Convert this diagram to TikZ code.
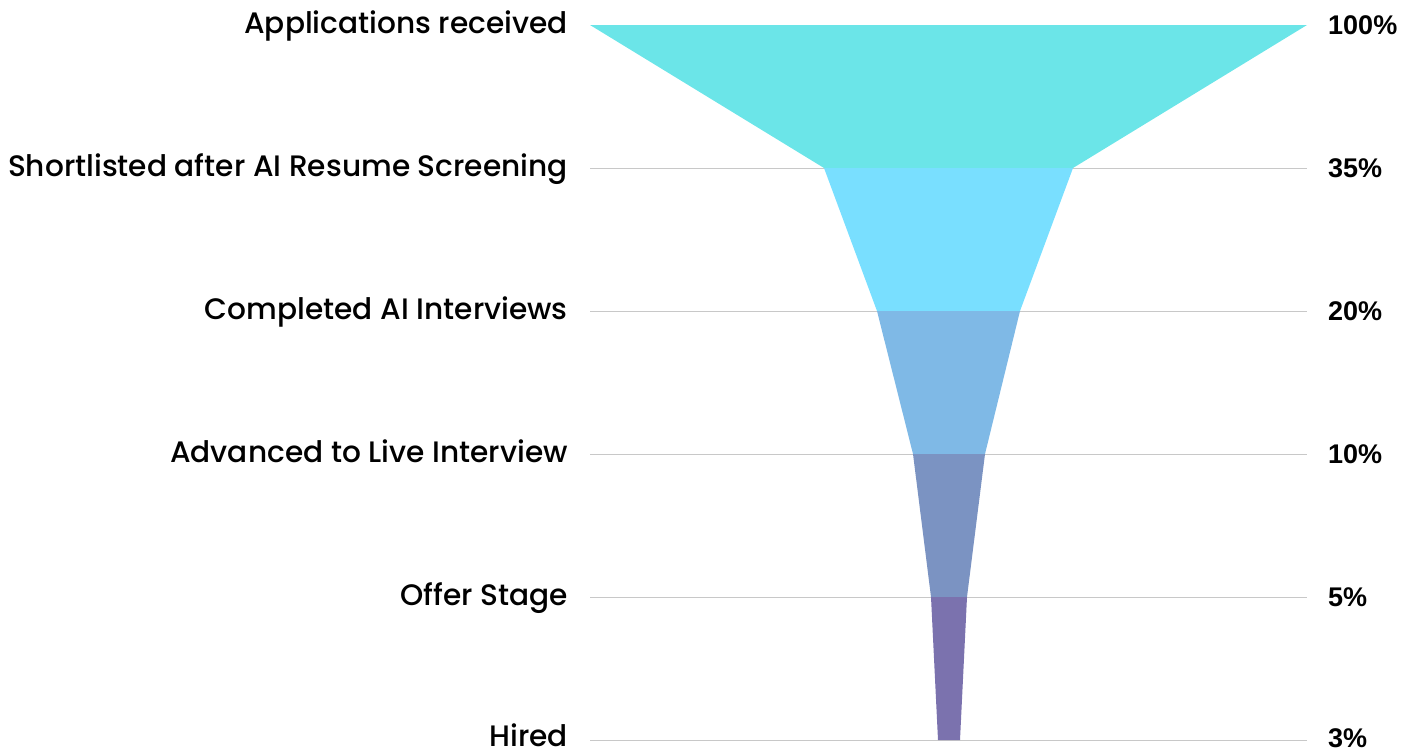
\documentclass[tikz,border=0pt]{standalone}
\usepackage{fontspec}
\setmainfont{Poppins}[UprightFont={* Medium}]
\newfontfamily\pctfont{Liberation Sans}
\usetikzlibrary{positioning}
\definecolor{stageA}{HTML}{6BE5E8}
\definecolor{stageB}{HTML}{79DFFF}
\definecolor{stageC}{HTML}{7FB9E6}
\definecolor{stageD}{HTML}{7B93C2}
\definecolor{stageE}{HTML}{7B72AE}
\definecolor{gridgray}{HTML}{C8C8C8}
\tikzstyle{stage} = [anchor=base east, inner sep=0pt, font=\fontsize{29.6}{34}\selectfont]
\tikzstyle{pct} = [anchor=base west, inner sep=0pt, font=\pctfont\bfseries\fontsize{27}{32}\selectfont]
\tikzstyle{grid} = [draw=gridgray, line width=1pt]

\begin{document}
\begin{tikzpicture}[x=1pt,y=-1pt]
	\useasboundingbox (0,0) rectangle (1411,755);
	% funnel corners, one pair per level
	\foreach \n/\y/\l/\r in {0/25/590/1307, 1/168/824/1073, 2/311/877/1020,
		3/454/913/985, 4/597/931/967, 5/740/938/960} {
		\coordinate (l\n) at (\l,\y);
		\coordinate (r\n) at (\r,\y);
		\coordinate (gl\n) at (590,\y);
		\coordinate (gr\n) at (1307,\y);
	}
	\foreach \n in {1,...,5}
		\draw[grid] (gl\n) -- (gr\n);
	\fill[stageA] (l0) -- (r0) -- (r1) -- (l1) -- cycle;
	\fill[stageB] (l1) -- (r1) -- (r2) -- (l2) -- cycle;
	\fill[stageC] (l2) -- (r2) -- (r3) -- (l3) -- cycle;
	\fill[stageD] (l3) -- (r3) -- (r4) -- (l4) -- cycle;
	\fill[stageE] (l4) -- (r4) -- (r5) -- (l5) -- cycle;
	% stage names and shares
	\foreach \n/\y/\name/\share in {0/33/Applications received/100\%,
		1/176/Shortlisted after AI Resume Screening/35\%,
		2/319/Completed AI Interviews/20\%,
		3/462/Advanced to Live Interview/10\%,
		4/605/Offer Stage/5\%,
		5/746/Hired/3\%} {
		\node[stage] (name\n) at (568,\y) {\name};
		\node[pct] (share\n) at (1328,\y+1) {\share};
	}
\end{tikzpicture}
\end{document}
